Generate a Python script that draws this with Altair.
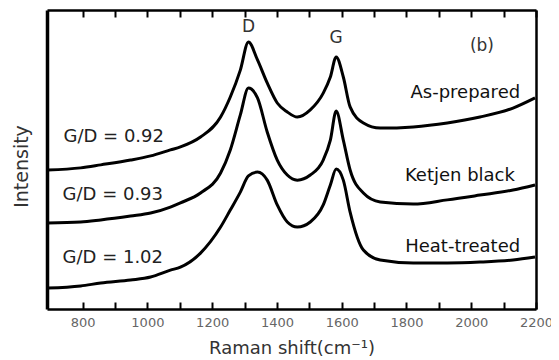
import altair as alt
import pandas as pd

# Raman shift grid (cm^-1)
raman_shift = [692, 794, 856, 948, 1010, 1071, 1102, 1164, 1226, 1256, 1287, 1312,
               1340, 1370, 1401, 1432, 1463, 1503, 1543, 1565, 1583, 1605, 1626,
               1667, 1719, 1821, 1926, 2027, 2129, 2197]

# Intensities (arbitrary units, offset stacked)
as_prepared = [46.5, 47.2, 48.2, 49.8, 51.2, 53.2, 54.2, 57.5, 64.2, 70.9, 79.9, 89.3,
               83.3, 75.6, 68.9, 65.9, 64.2, 66.6, 72.2, 77.6, 84.3, 77.6, 67.6,
               62.2, 60.5, 60.9, 62.2, 64.2, 67.2, 70.6]
ketjen_black = [28.8, 29.1, 29.8, 31.1, 32.1, 34.1, 35.5, 38.8, 45.5, 53.2, 64.9, 73.9,
                70.6, 59.2, 49.8, 44.8, 43.1, 44.8, 49.8, 56.5, 66.2, 56.5, 46.5,
                38.8, 35.8, 35.1, 36.5, 38.1, 39.8, 41.5]
heat_treated = [7.0, 7.7, 8.7, 9.7, 10.7, 13.0, 14.0, 18.7, 27.4, 33.1, 39.1, 44.5,
                45.8, 43.1, 34.8, 29.1, 27.4, 29.1, 34.8, 41.5, 46.8, 43.1, 32.4,
                19.7, 16.4, 15.4, 15.4, 15.7, 16.4, 17.4]

sample_names = ["As-prepared", "Ketjen black", "Heat-treated"]
ratio_labels = ["G/D = 0.92", "G/D = 0.93", "G/D = 1.02"]

tick_values = [800, 900, 1000, 1100, 1200, 1300, 1400, 1500, 1600, 1700, 1800,
               1900, 2000, 2100, 2200]

# annotation anchors (data coordinates)
name_x = [2151, 2135, 2151]
name_y = [72.2, 44.5, 20.7]
ratio_x = [741, 738, 738]
ratio_y = [57.5, 38.1, 17.1]
band_text = ["D", "G", "(b)"]
band_x = [1312, 1583, 2033]
band_y = [94.3, 90.6, 88.0]

rows = []
for name, vals in zip(sample_names, [as_prepared, ketjen_black, heat_treated]):
    for x, y in zip(raman_shift, vals):
        rows.append({"shift": x, "intensity": y, "sample": name})
df = pd.DataFrame(rows)

FONT = "DejaVu Sans"
W, H = 489, 299
xscale = alt.Scale(domain=[690, 2200], nice=False, zero=False)
yscale = alt.Scale(domain=[0, 100], nice=False, zero=False)
MAJOR = "datum.value % 200 === 0"
tick_len = {"condition": {"test": MAJOR, "value": 7}, "value": 4}

lines = alt.Chart(df).mark_line(
    color="black", strokeWidth=3, interpolate="monotone"
).encode(
    x=alt.X("shift:Q", scale=xscale, axis=alt.Axis(
        orient="bottom", values=tick_values, format="d",
        labelExpr=f"{MAJOR} ? datum.label : ''",
        title="Raman shift(cm⁻¹)", grid=False, domain=False,
        ticks=True, tickSize=7, tickWidth=2, tickColor="black", offset=-7,
        labelFont=FONT, labelFontSize=13, labelColor="#666", labelPadding=7,
        labelFlush=False,
        titleFont=FONT, titleFontSize=18, titleFontWeight="normal", titleColor="#333",
        titleX=244.5, titleY=46, titleBaseline="middle", titleAlign="center")),
    y=alt.Y("intensity:Q", scale=yscale, axis=alt.Axis(
        orient="left", title="Intensity", labels=False, ticks=False, grid=False,
        domain=True, domainColor="black", domainWidth=3.5,
        titleFont=FONT, titleFontSize=19, titleFontWeight="normal", titleColor="#333",
        titleAngle=270, titleX=-26, titleY=156, titleBaseline="middle",
        titleAlign="center")),
    detail="sample:N",
)

names_df = pd.DataFrame({"x": name_x, "y": name_y, "t": sample_names})
names = alt.Chart(names_df).mark_text(
    align="right", baseline="middle", font=FONT, fontSize=18, color="#111"
).encode(
    x=alt.X("x:Q", scale=xscale, axis=alt.Axis(
        orient="bottom", domain=True, domainColor="black", domainWidth=2.5,
        labels=False, ticks=False, grid=False, title=None)),
    y=alt.Y("y:Q", scale=yscale, axis=alt.Axis(
        orient="right", domain=True, domainColor="black", domainWidth=2.5,
        labels=False, ticks=False, grid=False, title=None)),
    text="t:N")

ratio_df = pd.DataFrame({"x": ratio_x, "y": ratio_y, "t": ratio_labels})
ratios = alt.Chart(ratio_df).mark_text(
    align="left", baseline="middle", font=FONT, fontSize=18, color="#222"
).encode(
    x=alt.X("x:Q", scale=xscale, axis=alt.Axis(
        orient="top", domain=True, domainColor="black", domainWidth=2.5,
        labels=False, ticks=False, grid=False, title=None)),
    y=alt.Y("y:Q", scale=yscale, axis=None),
    text="t:N")

band_df = pd.DataFrame({"x": band_x, "y": band_y, "t": band_text})
bands = alt.Chart(band_df).mark_text(
    align="center", baseline="middle", font=FONT, fontSize=17, color="#333"
).encode(
    x=alt.X("x:Q", scale=xscale, axis=alt.Axis(
        orient="top", values=tick_values, labels=False, domain=False, grid=False,
        title=None, ticks=True, tickSize=7, tickWidth=2, tickColor="black",
        offset=-7)),
    y=alt.Y("y:Q", scale=yscale, axis=None),
    text="t:N")

chart = alt.layer(
    lines, names, ratios, bands
).resolve_axis(
    x="independent", y="independent"
).properties(
    width=W, height=H,
    autosize=alt.AutoSizeParams(type="none"),
    padding={"left": 39, "top": 2, "right": 15, "bottom": 51},
).configure_view(stroke=None)

chart.save("out.html", embed_options={"renderer": "svg", "actions": False})
